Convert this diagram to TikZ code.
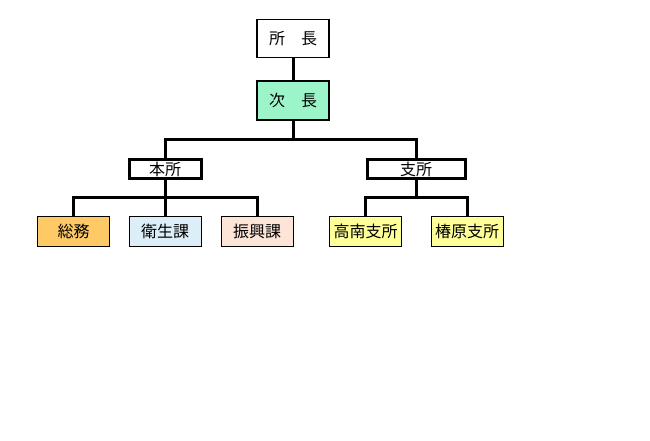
\documentclass[tikz,border=0pt]{standalone}
\usepackage{fontspec}
\newfontfamily\jp{Noto Sans CJK JP}
\usetikzlibrary{calc}
\definecolor{jichoG}{HTML}{9CF5C8}
\definecolor{somuO}{HTML}{FFC966}
\definecolor{eiseiB}{HTML}{DCEEF7}
\definecolor{shinkoP}{HTML}{FCE4D6}
\definecolor{shishoY}{HTML}{FFFF99}
\tikzset{
  post/.style={draw, line width=1pt, inner sep=0pt, minimum height=30pt, font=\jp\fontsize{16}{16}\selectfont},
  head/.style={post, line width=1.5pt, minimum width=72pt, minimum height=38pt},
  branch/.style={post, line width=3pt, minimum height=19pt},
  link/.style={line width=3pt},
}
\newcommand{\post}[5]{\node[post, fill=#4, minimum width=72pt] (#1) at ( #2 , #3 ) {#5};}

\begin{document}
\begin{tikzpicture}[x=1pt, y=-1pt]
        \useasboundingbox (0,0) rectangle (650,441);
        % top
        \node[head, fill=white] (shocho) at (293,38.5) {所　長};
        \node[head, fill=jichoG, minimum height=39pt] (jicho) at (293,100.5) {次　長};
        % branches
        \node[branch, minimum width=72pt] (honsho) at (165,169) {本所};
        \node[branch, minimum width=98pt] (shisho) at (416,169) {支所};
        % sections
        \post{somu}{73.5}{231}{somuO}{総務}
        \post{eisei}{165}{231}{eiseiB}{衛生課}
        \post{shinko}{257}{231}{shinkoP}{振興課}
        \post{konan}{365.5}{231}{shishoY}{高南支所}
        \post{tsubaki}{467}{231}{shishoY}{椿原支所}
        % connectors
        \coordinate (hub) at (293,139);
        \coordinate (hubA) at (165,197);
        \coordinate (hubB) at (416,197);
        \draw[link] (shocho) -- (jicho);
        \draw[link] (jicho) -- (hub);
        \draw[link] (honsho.north) |- (hub) -| (shisho.north);
        \draw[link] (honsho) -- (hubA);
        \draw[link] (somu.north) |- (hubA) -| (shinko.north);
        \draw[link] (hubA) -- (eisei);
        \draw[link] (shisho) -- (hubB);
        \draw[link] (konan.north) |- (hubB) -| (tsubaki.north);
    \end{tikzpicture}
\end{document}
